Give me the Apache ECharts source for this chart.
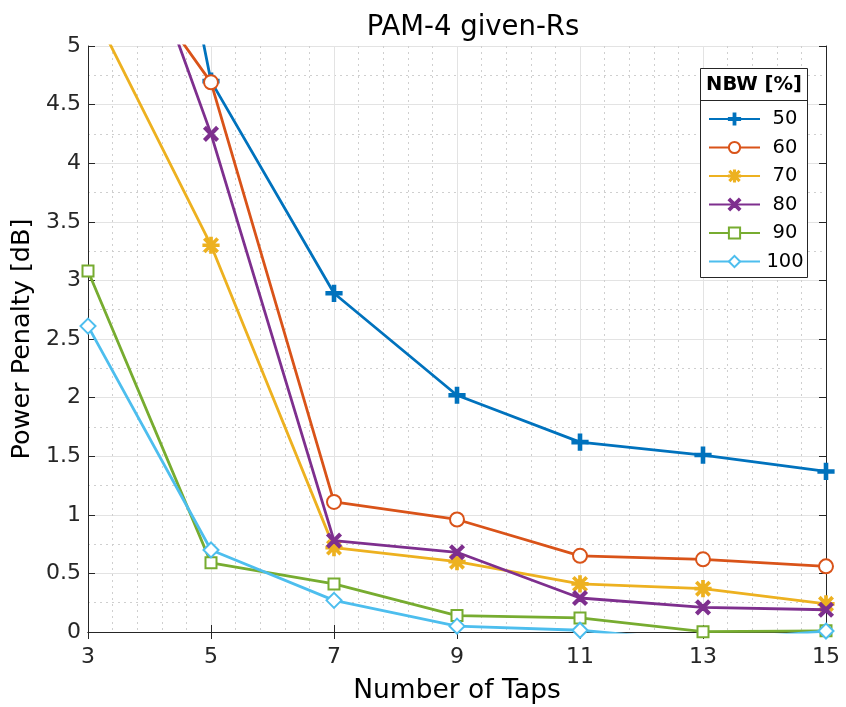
<!DOCTYPE html>
<html>
<head>
<meta charset="utf-8">
<script src="https://cdn.jsdelivr.net/npm/echarts@6/dist/echarts.min.js"></script>
<style>html,body{margin:0;padding:0;background:#fff;}#c{width:846px;height:707px;}</style>
</head>
<body>
<div id="c"></div>
<script>
const taps = [3, 5, 7, 9, 11, 13, 15];
const nbw50  = [9.96, 4.70, 2.89, 2.02, 1.62, 1.51, 1.37];
const nbw60  = [6.16, 4.69, 1.11, 0.96, 0.65, 0.62, 0.56];
const nbw70  = [5.39, 3.30, 0.72, 0.60, 0.41, 0.37, 0.24];
const nbw80  = [7.16, 4.25, 0.78, 0.68, 0.29, 0.21, 0.19];
const nbw90  = [3.08, 0.59, 0.41, 0.14, 0.12, 0.003, 0.01];
const nbw100 = [2.61, 0.70, 0.27, 0.05, 0.015, -0.08, 0.008];
const seriesNames = ['50', '60', '70', '80', '90', '100'];
const xTicks = [3, 5, 7, 9, 11, 13, 15];
const yTicks = [0, 0.5, 1, 1.5, 2, 2.5, 3, 3.5, 4, 4.5, 5];

const colors = ['#0072BD', '#D95319', '#EDB120', '#7E2F8E', '#77AC30', '#4DBEEE'];
const plusPath = 'path://M8.4,0 H11.6 V8.4 H20 V11.6 H11.6 V20 H8.4 V11.6 H0 V8.4 H8.4 Z';
const xPath = 'path://M2.2,0 L10,7.8 L17.8,0 L20,2.2 L12.2,10 L20,17.8 L17.8,20 L10,12.2 L2.2,20 L0,17.8 L7.8,10 L0,2.2 Z';
const starPath = 'path://M9,0 H11 V20 H9 Z M0,9 H20 V11 H0 Z M1.4,2.8 L2.8,1.4 L18.6,17.2 L17.2,18.6 Z M17.2,1.4 L18.6,2.8 L2.8,18.6 L1.4,17.2 Z';

const allData = [nbw50, nbw60, nbw70, nbw80, nbw90, nbw100];
const symbols = [plusPath, 'emptyCircle', starPath, xPath, 'emptyRect', 'emptyDiamond'];
const sizes = [15, 14, 15, 13, 11, 15];

const series = allData.map((vals, i) => ({
  name: seriesNames[i],
  type: 'line',
  data: taps.map((t, j) => [t, vals[j]]),
  symbol: symbols[i],
  symbolSize: sizes[i],
  showAllSymbol: true,
  clip: true,
  lineStyle: { color: colors[i], width: 2.8 },
  itemStyle: { color: colors[i], borderColor: colors[i], borderWidth: 2.2 },
  emphasis: { disabled: true },
  z: 2 + i
}));

const axisColor = '#262626';
const font = 'DejaVu Sans';

const chart = echarts.init(document.getElementById('c'), null, { renderer: 'canvas' });
chart.setOption({
  animation: false,
  backgroundColor: '#fff',
  title: {
    text: 'PAM-4 given-Rs',
    left: 468, top: 9, textAlign: 'center',
    textStyle: { fontFamily: font, fontSize: 27.5, fontWeight: 'normal', color: '#000' }
  },
  grid: { left: 88, right: 20, top: 46, bottom: 75, containLabel: false, outerBoundsMode: 'none' },
  xAxis: [{
    type: 'value', min: 3, max: 15, interval: 2,
    name: 'Number of Taps', nameLocation: 'middle', nameGap: 46,
    nameTextStyle: { fontFamily: font, fontSize: 26.5, color: '#000' },
    axisLine: { show: true, lineStyle: { color: axisColor, width: 1 } },
    axisTick: { show: true, inside: true, length: 7, lineStyle: { color: axisColor } },
    axisLabel: { fontFamily: font, fontSize: 22, color: axisColor, margin: 14,
      formatter: v => xTicks.includes(v) ? String(v) : '' },
    splitLine: { show: true, lineStyle: { color: '#e3e3e3', width: 1 } },
    minorTick: { show: false, splitNumber: 5 },
    minorSplitLine: { show: true, lineStyle: { color: '#cfcfcf', type: [2, 4], width: 1 } }
  }, {
    type: 'value', min: 3, max: 15, interval: 2, position: 'top',
    axisLine: { show: true, lineStyle: { color: axisColor, width: 1 } },
    axisTick: { show: true, inside: true, length: 7, lineStyle: { color: axisColor } },
    axisLabel: { show: false }, splitLine: { show: false }
  }],
  yAxis: [{
    type: 'value', min: 0, max: 5, interval: 0.5,
    name: 'Power Penalty [dB]', nameLocation: 'middle', nameGap: 48,
    nameTextStyle: { fontFamily: font, fontSize: 25.5, color: '#000' },
    axisLine: { show: true, lineStyle: { color: axisColor, width: 1 } },
    axisTick: { show: true, inside: true, length: 7, lineStyle: { color: axisColor } },
    axisLabel: { fontFamily: font, fontSize: 22, color: axisColor, margin: 7,
      formatter: v => String(yTicks.find(t => Math.abs(t - v) < 1e-9) ?? '') },
    splitLine: { show: true, lineStyle: { color: '#e3e3e3', width: 1 } },
    minorTick: { show: false, splitNumber: 2 },
    minorSplitLine: { show: true, lineStyle: { color: '#cfcfcf', type: [2, 4], width: 1 } }
  }, {
    type: 'value', min: 0, max: 5, interval: 0.5, position: 'right',
    axisLine: { show: true, lineStyle: { color: axisColor, width: 1 } },
    axisTick: { show: true, inside: true, length: 7, lineStyle: { color: axisColor } },
    axisLabel: { show: false }, splitLine: { show: false }
  }],
  legend: {
    data: seriesNames,
    orient: 'vertical',
    left: 708, top: 109, padding: 0,
    itemWidth: 51, itemHeight: 14, itemGap: 8.5,
    z: 10,
    selectedMode: false,
    formatter: name => '{c|' + name + '}',
    textStyle: {
      fontFamily: font, fontSize: 19.5, color: '#000',
      rich: { c: { fontFamily: font, fontSize: 19.5, color: '#000', width: 40, align: 'center' } }
    }
  },
  graphic: [
    { type: 'rect', z: 8, shape: { x: 700.5, y: 68.5, width: 107, height: 209 },
      style: { fill: '#fff', stroke: '#262626', lineWidth: 1 } },
    { type: 'line', z: 9, shape: { x1: 700.5, y1: 100.5, x2: 807.5, y2: 100.5 },
      style: { stroke: '#262626', lineWidth: 1 } },
    { type: 'text', z: 9, x: 754, y: 85,
      style: { text: 'NBW [%]', fontFamily: font, fontSize: 19.5, fontWeight: 'bold', fill: '#000',
        align: 'center', verticalAlign: 'middle' } }
  ],
  series: series
});
</script>
</body>
</html>
